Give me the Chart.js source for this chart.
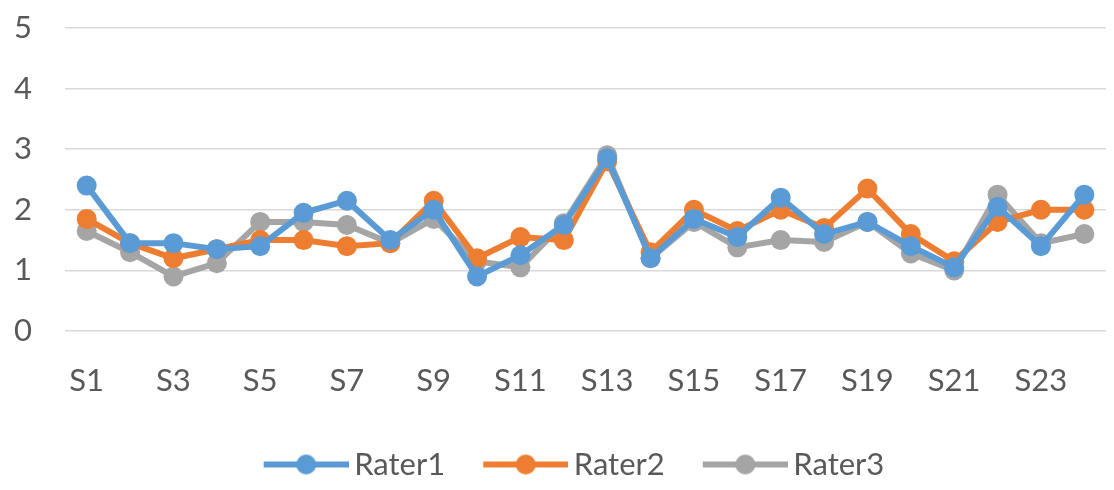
<!DOCTYPE html>
<html>
<head>
<meta charset="utf-8">
<script src="https://cdn.jsdelivr.net/npm/chart.js@4"></script>
<style>
  html, body { margin: 0; padding: 0; background: #fff; }
  #wrap { width: 1114px; height: 490px; }
</style>
</head>
<body>
<div id="wrap"><canvas id="raterChart"></canvas></div>
<script>
const subjects = ['S1','S2','S3','S4','S5','S6','S7','S8','S9','S10','S11','S12',
  'S13','S14','S15','S16','S17','S18','S19','S20','S21','S22','S23','S24'];
const rater1 = [2.4, 1.45, 1.45, 1.35, 1.4, 1.95, 2.15, 1.5, 2.0, 0.9, 1.25, 1.75,
  2.85, 1.2, 1.85, 1.55, 2.2, 1.6, 1.8, 1.4, 1.05, 2.05, 1.4, 2.25];
const rater2 = [1.85, 1.45, 1.2, 1.35, 1.5, 1.5, 1.4, 1.45, 2.15, 1.2, 1.55, 1.5,
  2.8, 1.3, 2.0, 1.65, 2.0, 1.7, 2.35, 1.6, 1.15, 1.8, 2.0, 2.0];
const rater3 = [1.65, 1.3, 0.9, 1.12, 1.8, 1.8, 1.75, 1.45, 1.85, 1.15, 1.05, 1.78,
  2.9, 1.2, 1.8, 1.38, 1.5, 1.47, 1.8, 1.28, 1.0, 2.25, 1.45, 1.6];
const yTicks = [0, 1, 2, 3, 4, 5];

const colors = ['#5B9BD5', '#ED7D31', '#A5A5A5'];

// legend marker: a line with a dot, drawn right-aligned so the
// leading empty part acts as the gap between legend items
const MARK_W = 103;
function legendMarker(color) {
  const c = document.createElement('canvas');
  c.width = 123; c.height = 24;
  const g = c.getContext('2d');
  g.strokeStyle = color;
  g.lineWidth = 6;
  g.beginPath();
  g.moveTo(38, 12);
  g.lineTo(123, 12);
  g.stroke();
  g.fillStyle = color;
  g.beginPath();
  g.arc(80.5, 12, 10, 0, Math.PI * 2);
  g.fill();
  return c;
}

function makeSet(label, data, color) {
  return {
    label: label,
    data: data,
    borderColor: color,
    backgroundColor: color,
    borderWidth: 6,
    pointRadius: 10,
    pointHoverRadius: 10,
    pointBorderWidth: 0,
    tension: 0,
    fill: false,
  };
}

const ctx = document.getElementById('raterChart').getContext('2d');

new Chart(ctx, {
  type: 'line',
  data: {
    labels: subjects,
    datasets: [
      makeSet('Rater1', rater1, colors[0]),
      makeSet('Rater2', rater2, colors[1]),
      makeSet('Rater3', rater3, colors[2]),
    ],
  },
  options: {
    responsive: true,
    maintainAspectRatio: false,
    animation: false,
    layout: { autoPadding: false, padding: { top: 8, right: 8, left: 14, bottom: 0 } },
    plugins: {
      tooltip: { enabled: false },
      legend: {
        position: 'bottom',
        labels: {
          usePointStyle: true,
          pointStyleWidth: MARK_W,
          padding: 10,
          color: '#595959',
          font: { size: 31, family: 'Lato, sans-serif' },
          generateLabels: (chart) => chart.data.datasets.map((ds, i) => ({
            text: ds.label,
            fillStyle: ds.borderColor,
            strokeStyle: ds.borderColor,
            fontColor: '#595959',
            pointStyle: legendMarker(ds.borderColor),
            datasetIndex: i,
            hidden: false,
          })),
        },
      },
    },
    scales: {
      x: {
        offset: true,
        grid: { display: false },
        border: { display: false },
        // fixed band between the plot and the legend
        afterFit: (s) => { s.height = 108; },
        ticks: {
          autoSkip: false,
          maxRotation: 0,
          padding: 23,
          color: '#595959',
          font: { size: 31, family: 'Lato, sans-serif' },
          callback: function (val, i) {
            return i % 2 === 0 ? this.getLabelForValue(val) : '';
          },
        },
      },
      y: {
        min: yTicks[0],
        max: yTicks[yTicks.length - 1],
        afterBuildTicks: (axis) => { axis.ticks = yTicks.map((v) => ({ value: v })); },
        // tick padding counts twice in the default fit, so set the box by hand
        afterFit: (s) => { s.width = 51; s.paddingTop = 28; s.paddingBottom = 0; },
        grid: { color: '#D9D9D9', lineWidth: 1.5, drawTicks: false },
        border: { display: false },
        ticks: {
          padding: 33,
          color: '#595959',
          font: { size: 31, family: 'Lato, sans-serif' },
        },
      },
    },
  },
});
</script>
</body>
</html>
